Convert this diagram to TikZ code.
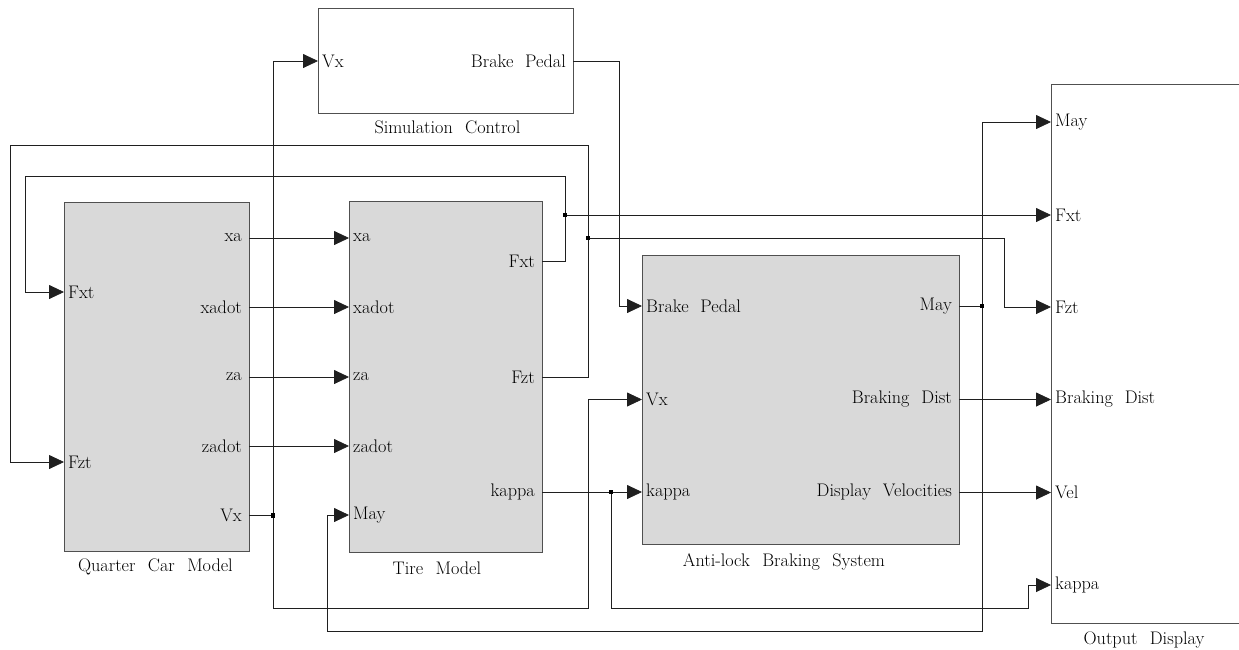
\documentclass[tikz,border=0pt]{standalone}
\usepackage{fontspec}
\usetikzlibrary{arrows.meta}
\definecolor{boxfill}{HTML}{D9D9D9}
\definecolor{edge}{HTML}{505050}
% label fonts with the wide word spacing of the block labels
\newcommand{\portfont}{\fontsize{18.2}{22}\selectfont\spaceskip=0.65em\relax}
\newcommand{\blkcapfont}{\fontsize{18.2}{22}\selectfont\spaceskip=0.68em\relax}
\begin{document}
\begin{tikzpicture}[x=1pt,y=-1pt,
  blk/.style={draw=edge, line width=0.9pt, rectangle, inner sep=0pt},
  lbl/.style={font=\portfont, inner ysep=1pt},
  inp/.style={lbl, anchor=west, inner xsep=4pt},
  outp/.style={lbl, anchor=east, inner xsep=7pt},
  blkcap/.style={font=\blkcapfont, inner sep=0pt, anchor=north},
  wire/.style={draw=black!88, line width=0.8pt},
  sig/.style={wire, -{Triangle[length=15pt,width=14pt]}},
  junc/.style={fill=black, rectangle, minimum size=4.5pt, inner sep=0pt}]
\useasboundingbox (0,0) rectangle (1239,649);
\clip (0,0) rectangle (1239,649);

% blocks
\node[blk, fill=boxfill, minimum width=185pt, minimum height=349pt, anchor=north west] (qcm) at (64,202) {};
\node[blk, fill=boxfill, minimum width=193pt, minimum height=351pt, anchor=north west] (tire) at (349,201) {};
\node[blk, fill=white, minimum width=255pt, minimum height=105pt, anchor=north west] (sim) at (318,8) {};
\node[blk, fill=boxfill, minimum width=317pt, minimum height=289pt, anchor=north west] (abs) at (642,255) {};
\node[blk, fill=white, minimum width=220pt, minimum height=539pt, anchor=north west] (od) at (1051,84) {};

% captions
\node[blkcap] (qcm-cap) at ([xshift=-1.5pt, yshift=-7pt]qcm.south) {Quarter Car Model};
\node[blkcap] (tire-cap) at ([xshift=-9pt, yshift=-9pt]tire.south) {Tire Model};
\node[blkcap] (sim-cap) at ([xshift=1.5pt, yshift=-7pt]sim.south) {Simulation Control};
\node[blkcap] (abs-cap) at ([xshift=-17pt, yshift=-9pt]abs.south) {Anti-lock Braking System};
\node[blkcap] (od-cap) at (1144,632) {Output Display};

% quarter car ports
\node[inp] (q-fxt) at (64,292) {Fxt};
\node[inp] (q-fzt) at (64,462) {Fzt};
\node[outp] (q-xa) at (249,238) {xa};
\node[outp] (q-xadot) at (249,307) {xadot};
\node[outp] (q-za) at (249,377) {za};
\node[outp] (q-zadot) at (249,446) {zadot};
\node[outp] (q-vx) at (249,515.5) {Vx};

% tire ports
\node[inp] (t-xa) at (349,238) {xa};
\node[inp] (t-xadot) at (349,307) {xadot};
\node[inp] (t-za) at (349,377) {za};
\node[inp] (t-zadot) at (349,446) {zadot};
\node[inp] (t-may) at (349,515) {May};
\node[outp] (t-fxt) at (542,261) {Fxt};
\node[outp] (t-fzt) at (542,377) {Fzt};
\node[outp] (t-kap) at (542,492) {kappa};

% simulation control ports
\node[inp] (s-vx) at (318,61) {Vx};
\node[outp] (s-bp) at (573,61) {Brake Pedal};

% ABS ports
\node[inp] (a-bp) at (642,306) {Brake Pedal};
\node[inp] (a-vx) at (642,399.5) {Vx};
\node[inp] (a-kap) at (642,492) {kappa};
\node[outp] (a-may) at (959,306) {May};
\node[outp] (a-bd) at (959,399.5) {Braking Dist};
\node[outp] (a-dv) at (959,492.5) {Display Velocities};

% output display ports
\node[inp] (o-may) at (1051,122) {May};
\node[inp] (o-fxt) at (1051,215) {Fxt};
\node[inp] (o-fzt) at (1051,307) {Fzt};
\node[inp] (o-bd) at (1051,399.5) {Braking Dist};
\node[inp] (o-vel) at (1051,492.5) {Vel};
\node[inp] (o-kap) at (1051,585) {kappa};

% branch points
\coordinate (j-vx) at (273,515.5);
\coordinate (j-fxt) at (565,215);
\coordinate (j-fzt) at (588,238);
\coordinate (j-kap) at (611,492);
\coordinate (j-may) at (982,306);

% straight signals
\draw[sig] (q-xa.east) -- (t-xa.west);
\draw[sig] (q-xadot.east) -- (t-xadot.west);
\draw[sig] (q-za.east) -- (t-za.west);
\draw[sig] (q-zadot.east) -- (t-zadot.west);
\draw[sig] (t-kap.east) -- (a-kap.west);
\draw[sig] (a-bd.east) -- (o-bd.west);
\draw[sig] (a-dv.east) -- (o-vel.west);

% brake pedal command
\draw[sig] (s-bp.east) -| (619,306) -- (a-bp.west);

% vehicle speed
\draw[wire] (q-vx.east) -- (j-vx);
\draw[sig] (j-vx) |- (s-vx.west);
\draw[sig] (j-vx) |- (588,608) |- (a-vx.west);

% tire forces fed back
\draw[sig] (t-fxt.east) -| (565,176) -| (25,292) -- (q-fxt.west);
\draw[sig] (j-fxt) -- (o-fxt.west);
\draw[sig] (t-fzt.east) -| (588,145) -| (10,462) -- (q-fzt.west);
\draw[sig] (j-fzt) -| (1004,307) -- (o-fzt.west);

% slip ratio to display
\draw[sig] (j-kap) |- (1028,608) |- (o-kap.west);

% May signal
\draw[wire] (a-may.east) -- (j-may);
\draw[sig] (j-may) |- (o-may.west);
\draw[sig] (j-may) |- (327,631) |- (t-may.west);

% branch dots
\node[junc] (dot-vx) at (j-vx) {};
\node[junc] (dot-fxt) at (j-fxt) {};
\node[junc] (dot-fzt) at (j-fzt) {};
\node[junc] (dot-kap) at (j-kap) {};
\node[junc] (dot-may) at (j-may) {};
\end{tikzpicture}
\end{document}
